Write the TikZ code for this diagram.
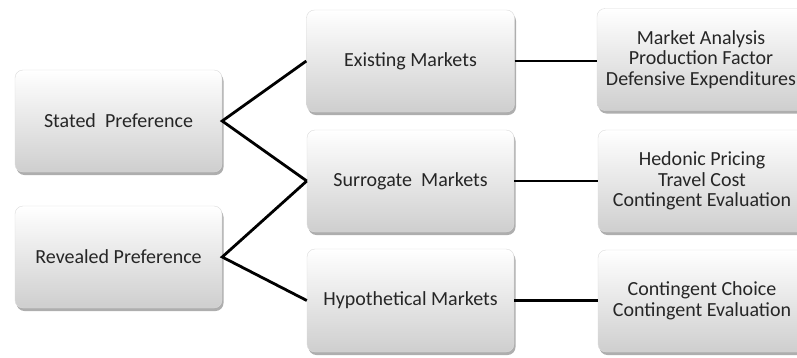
\documentclass[tikz,border=0pt]{standalone}
\usepackage{fontspec}
\setmainfont{Carlito}
\usetikzlibrary{shadows}
\definecolor{txt}{HTML}{262626}
\tikzset{
  box/.style={rectangle, rounded corners=8pt, minimum width=208pt, minimum height=102pt,
    top color=white, bottom color=black!19, draw=black!14, line width=0.4pt,
    drop shadow={shadow xshift=1.5pt, shadow yshift=-3pt, opacity=0.45, fill=black!70},
    text=txt, font=\fontsize{20}{20.5}\selectfont, align=center, inner sep=2pt},
  link/.style={line width=2.8pt, black}
}
\begin{document}
\begin{tikzpicture}[x=1pt,y=-1pt]
\useasboundingbox (0,0) rectangle (797,357);
\clip (0,0) rectangle (797,357);
\fill[white] (0,0) rectangle (797,357);
\node[box, minimum width=207pt] (sp) at (118.5,121) {Stated\ \ Preference};
\node[box, minimum width=207pt] (rp) at (118.5,257) {Revealed Preference};
\node[box] (em) at (410.5,61) {Existing Markets};
\node[box, minimum width=207pt] (sm) at (410.5,181) {Surrogate\ \ Markets};
\node[box, minimum width=207pt, minimum height=103pt] (hm) at (410.5,300.5) {Hypothetical Markets};
\node[box] (r1) at (701,59.5) {Market Analysis\\Production Factor\\Defensive Expenditures};
\node[box] (r2) at (702,181) {Hedonic Pricing\\Travel Cost\\Contingent Evaluation};
\node[box] (r3) at (702,301) {Contingent Choice\\Contingent Evaluation};
\draw[link] (em.west) -- (sp.east) -- (sm.west);
\draw[link] (sm.west) -- (rp.east) -- (hm.west);
\draw[link] (em.east) -- (r1.west |- em.east);
\draw[link] (sm.east) -- (r2.west |- sm.east);
\draw[link] (hm.east) -- (r3.west |- hm.east);
\end{tikzpicture}
\end{document}
